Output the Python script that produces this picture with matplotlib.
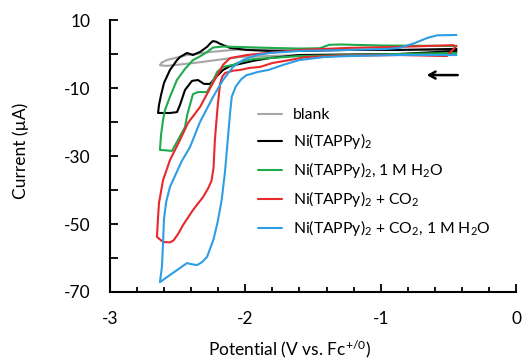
import matplotlib
matplotlib.use("Agg")
import matplotlib.pyplot as plt
from matplotlib.ticker import MultipleLocator, FixedLocator

plt.rcParams['font.family'] = ['Lato', 'DejaVu Sans']
plt.rcParams['mathtext.fontset'] = 'custom'
plt.rcParams['mathtext.rm'] = 'Lato'
plt.rcParams['mathtext.it'] = 'Lato'
plt.rcParams['axes.unicode_minus'] = False

# Cyclic voltammograms: potential (V vs. Fc+/0) and current (uA)
blank_v = [-0.44, -0.86, -1.23, -1.60, -1.82, -2.04, -2.21, -2.38, -2.58, -2.631,
           -2.62, -2.579, -2.43, -2.26, -2.06, -1.80, -1.50, -1.20, -0.86, -0.44]
blank_i = [0.3, 0.0, -0.1, -0.3, -0.6, -0.9, -1.76, -2.65, -3.5, -3.3,
           -2.6, -1.76, -0.3, 0.6, 1.3, 1.3, 1.3, 1.2, 1.2, 1.2]

ni_v = [-0.44, -0.86, -1.23, -1.60, -1.82, -1.94, -2.04, -2.11, -2.165, -2.217,
        -2.261, -2.305, -2.35, -2.394, -2.446, -2.483, -2.505, -2.557, -2.645,
        -2.638, -2.623, -2.601, -2.557, -2.505, -2.483, -2.431, -2.387, -2.335,
        -2.283, -2.255, -2.239, -2.215, -2.187, -2.113, -1.99, -1.82, -1.60,
        -1.23, -0.86, -0.44]
ni_i = [0.9, 0.0, -0.2, -0.3, -1.2, -2.0, -2.9, -3.5, -4.7, -6.8,
        -8.8, -8.8, -7.65, -7.9, -10.6, -15.0, -17.1, -17.35, -17.35,
        -15.0, -12.1, -8.5, -4.7, -1.8, -0.9, 0.3, -0.3, 0.6,
        2.1, 3.3, 3.8, 3.6, 3.0, 1.8, 1.2, 0.9, 0.9,
        1.2, 1.2, 1.5]

ni_h2o_v = [-0.44, -0.86, -1.23, -1.60, -1.82, -1.94, -2.04, -2.09, -2.165, -2.209,
            -2.246, -2.283, -2.35, -2.387, -2.43, -2.446, -2.498, -2.542, -2.631,
            -2.623, -2.608, -2.594, -2.557, -2.505, -2.446, -2.387, -2.335, -2.283,
            -2.239, -2.165, -1.99, -1.82, -1.60, -1.45, -1.38, -1.30, -1.00, -0.44]
ni_h2o_i = [0.3, 0.0, -0.3, -0.6, -1.2, -1.5, -2.35, -3.2, -3.8, -5.3,
            -8.5, -11.2, -11.2, -11.8, -18.0, -21.5, -25.3, -28.5, -28.2,
            -23.8, -19.4, -16.5, -12.6, -7.6, -4.4, -1.8, -0.7, 0.6,
            1.9, 2.2, 2.0, 1.8, 1.6, 1.7, 2.7, 2.8, 2.5, 2.35]

ni_co2_v = [-0.44, -0.51, -0.86, -1.30, -1.55, -1.67, -1.80, -1.89, -1.97, -2.04,
            -2.09, -2.15, -2.17, -2.187, -2.205, -2.225, -2.235, -2.25, -2.276,
            -2.313, -2.387, -2.46, -2.498, -2.53, -2.557, -2.608, -2.653,
            -2.645, -2.638, -2.608, -2.557, -2.483, -2.424, -2.335, -2.239, -2.165,
            -2.113, -1.988, -1.84, -1.60, -1.23, -0.86, -0.46]
ni_co2_i = [2.4, -0.6, -0.3, -0.5, -0.88, -1.76, -2.65, -3.8, -4.1, -4.7,
            -4.9, -5.6, -6.6, -8.8, -15.6, -25.3, -33.5, -37.3, -39.6,
            -42.1, -45.9, -50.3, -53.0, -54.8, -55.4, -55.3, -53.8,
            -48.0, -43.8, -37.1, -31.2, -25.3, -20.3, -15.6, -8.5, -3.2,
            -1.2, -0.3, 0.3, 1.2, 1.8, 2.1, 2.6]

ni_co2_h2o_v = [-0.44, -0.86, -1.23, -1.42, -1.60, -1.72, -1.83, -1.91, -1.96, -1.99,
                -2.03, -2.07, -2.10, -2.113, -2.13, -2.15, -2.175, -2.205, -2.235,
                -2.283, -2.32, -2.357, -2.40, -2.431, -2.557, -2.631,
                -2.616, -2.608, -2.601, -2.585, -2.557, -2.47, -2.409, -2.335, -2.239,
                -2.165, -2.091, -2.017, -1.914, -1.818, -1.60, -1.23, -0.95, -0.86,
                -0.75, -0.65, -0.58, -0.44]
ni_co2_h2o_i = [-0.3, -0.3, -0.6, -0.9, -1.76, -3.2, -4.7, -5.3, -5.9, -6.2,
                -7.4, -9.5, -12.5, -17.4, -25.3, -34.5, -43.0, -49.5, -54.5,
                -59.7, -61.2, -62.1, -61.8, -61.5, -65.0, -67.1,
                -62.5, -55.6, -48.5, -43.5, -39.1, -31.5, -27.4, -20.0, -12.65,
                -7.65, -3.8, -1.76, -0.3, 0.3, 0.9, 1.2, 1.5, 1.8,
                3.2, 4.8, 5.5, 5.6]

series = [
    ("blank", blank_v, blank_i, "#a6a6a6"),
    ("Ni(TAPPy)$_2$", ni_v, ni_i, "#000000"),
    ("Ni(TAPPy)$_2$, 1 M H$_2$O", ni_h2o_v, ni_h2o_i, "#1faa4c"),
    ("Ni(TAPPy)$_2$ + CO$_2$", ni_co2_v, ni_co2_i, "#e8282b"),
    ("Ni(TAPPy)$_2$ + CO$_2$, 1 M H$_2$O", ni_co2_h2o_v, ni_co2_h2o_i, "#2e9de6"),
]

x_ticks = [-3, -2, -1, 0]
x_tick_labels = ["-3", "-2", "-1", "0"]
y_ticks = [10, -10, -30, -50, -70]
y_tick_labels = ["10", "-10", "-30", "-50", "-70"]
y_minor_ticks = [0, -20, -40, -60]

W, H = 523, 362
fig = plt.figure(figsize=(W / 100, H / 100), dpi=100)
ax = fig.add_axes([110 / W, 1 - 292 / H, 406 / W, 272 / H])

for label, v, i, color in series:
    ax.plot(v, i, color=color, lw=1.5, label=label,
            solid_joinstyle='round', solid_capstyle='round')

ax.set_xlim(-3, 0)
ax.set_ylim(-70, 10)

for side in ("top", "right"):
    ax.spines[side].set_visible(False)
for side in ("left", "bottom"):
    ax.spines[side].set_linewidth(1.5)

ax.set_xticks(x_ticks)
ax.set_xticklabels(x_tick_labels)
ax.xaxis.set_minor_locator(MultipleLocator(0.2))
ax.set_yticks(y_ticks)
ax.set_yticklabels(y_tick_labels)
ax.yaxis.set_minor_locator(FixedLocator(y_minor_ticks))

ax.tick_params(axis='both', which='both', direction='in', width=1.3, labelsize=12.5)
ax.tick_params(axis='x', which='major', length=6, pad=14)
ax.tick_params(axis='x', which='minor', length=3.8)
ax.tick_params(axis='y', which='major', length=6, pad=14)
ax.tick_params(axis='y', which='minor', length=6)

ax.set_xlabel("Potential (V vs. Fc$^{+/0}$)", fontsize=12.5)
ax.set_ylabel("Current (µA)", fontsize=12.5)
ax.xaxis.set_label_coords(0.443, -0.17)
ax.yaxis.set_label_coords(-0.2, 0.52)

# scan direction arrow
ax.annotate("", xy=(-0.68, -6.2), xytext=(-0.41, -6.2),
            arrowprops=dict(arrowstyle="->,head_length=0.45,head_width=0.25",
                            lw=1.8, color="black"))

fig.legend(loc="upper left", bbox_to_anchor=(258 / W, 1 - 108 / H),
           frameon=False, fontsize=11.3, handlelength=1.5, handletextpad=0.7,
           labelspacing=0.58, borderpad=0, borderaxespad=0)

fig.savefig("out.png", dpi=100)
